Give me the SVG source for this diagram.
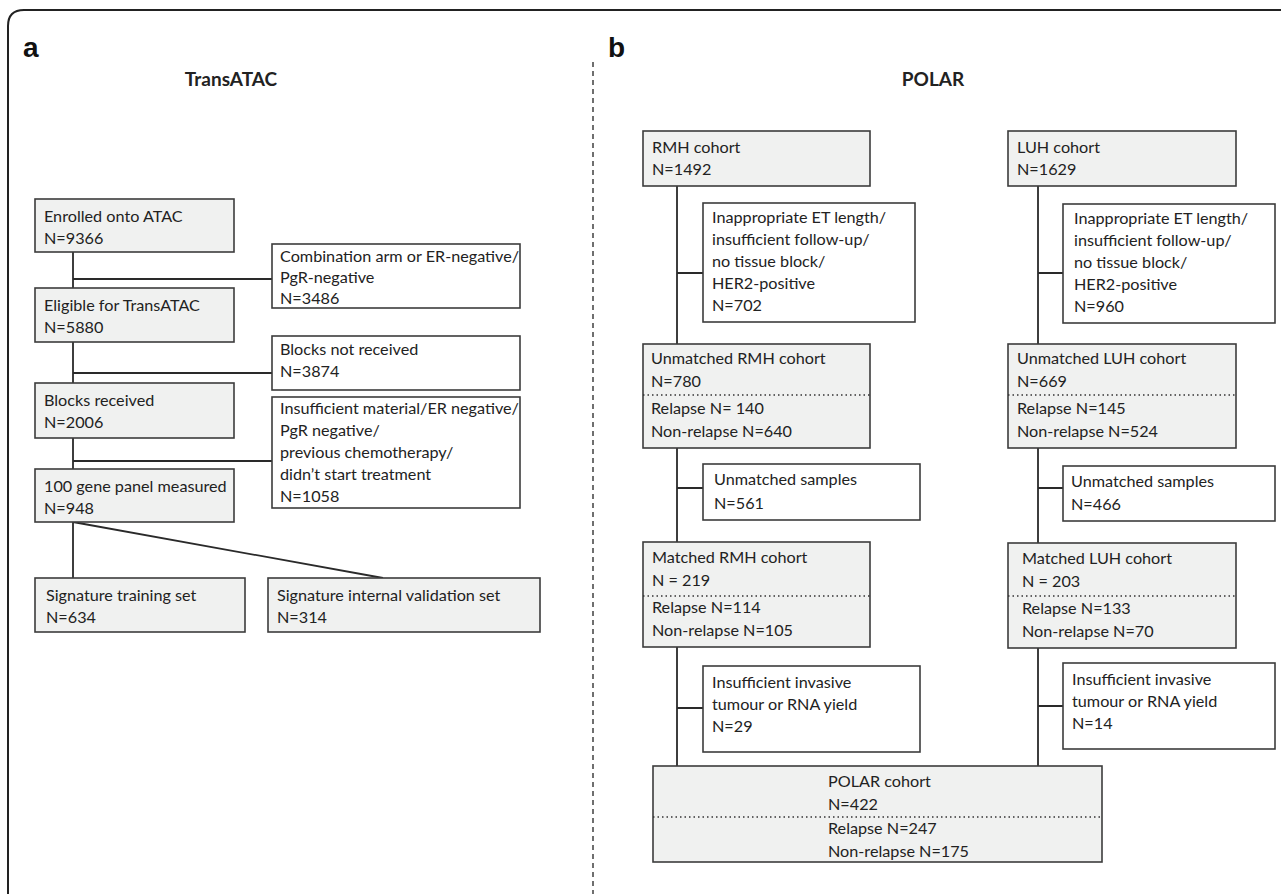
<svg xmlns="http://www.w3.org/2000/svg" width="1281" height="894" viewBox="0 0 1281 894">
<style>
.t{font-family:Lato,"Open Sans","Liberation Sans",sans-serif;font-size:16.2px;fill:#222}
.h{font-family:Lato,"Open Sans","Liberation Sans",sans-serif;font-size:19px;font-weight:bold;fill:#222}
.lab{font-family:"Liberation Sans",Arial,sans-serif;font-size:28px;font-weight:bold;fill:#111}
.g{fill:#f0f1f0;stroke:#3c3c3c;stroke-width:1.6}
.w{fill:#fff;stroke:#3c3c3c;stroke-width:1.6}
.c{fill:none;stroke:#2a2a2a;stroke-width:1.8}
.dot{stroke:#333;stroke-width:1.4;stroke-dasharray:1.5 3}
</style>
<rect width="1281" height="894" fill="#fff"/>
<path d="M8,894 V26 Q8,10 24,10 H1281" fill="none" stroke="#222" stroke-width="2"/>
<line x1="593" y1="62" x2="593" y2="894" stroke="#333" stroke-width="1.4" stroke-dasharray="5 4"/>
<text class="lab" x="23" y="57">a</text>
<text class="lab" x="608" y="57">b</text>
<text class="h" x="231" y="86" text-anchor="middle">TransATAC</text>
<text class="h" x="933" y="86" text-anchor="middle">POLAR</text>

<g id="connectors">
<path class="c" d="M73,252 V578 M73,279 H272 M73,373 H272 M73,461 H272 M73,522 L383,578"/>
<path class="c" d="M677,186 V766 M677,273 H703 M677,488 H703 M677,708 H703"/>
<path class="c" d="M1038,186 V766 M1038,273 H1063 M1038,488 H1063 M1038,706 H1063"/>
</g>

<g id="enrolled"><rect class="g" x="35" y="199" width="199" height="53"/><text class="t" x="44" y="222">Enrolled onto ATAC</text><text class="t" x="44" y="244">N=9366</text></g>
<g id="excl1"><rect class="w" x="272" y="244" width="248" height="64"/><text class="t" x="280" y="262">Combination arm or ER-negative/</text><text class="t" x="280" y="283">PgR-negative</text><text class="t" x="280" y="304">N=3486</text></g>
<g id="eligible"><rect class="g" x="35" y="288" width="199" height="54"/><text class="t" x="44" y="311">Eligible for TransATAC</text><text class="t" x="44" y="333">N=5880</text></g>
<g id="excl2"><rect class="w" x="272" y="336" width="248" height="54"/><text class="t" x="280" y="355">Blocks not received</text><text class="t" x="280" y="377">N=3874</text></g>
<g id="received"><rect class="g" x="35" y="383" width="199" height="55"/><text class="t" x="44" y="406">Blocks received</text><text class="t" x="44" y="428">N=2006</text></g>
<g id="excl3"><rect class="w" x="272" y="397" width="248" height="111"/><text class="t" x="280" y="414">Insufficient material/ER negative/</text><text class="t" x="280" y="436">PgR negative/</text><text class="t" x="280" y="458">previous chemotherapy/</text><text class="t" x="280" y="480">didn’t start treatment</text><text class="t" x="280" y="502">N=1058</text></g>
<g id="panel"><rect class="g" x="35" y="469" width="199" height="53"/><text class="t" x="44" y="492">100 gene panel measured</text><text class="t" x="44" y="514">N=948</text></g>
<g id="training"><rect class="g" x="35" y="578" width="210" height="54"/><text class="t" x="46" y="601">Signature training set</text><text class="t" x="46" y="623">N=634</text></g>
<g id="validation"><rect class="g" x="268" y="578" width="272" height="54"/><text class="t" x="277" y="601">Signature internal validation set</text><text class="t" x="277" y="623">N=314</text></g>

<g id="rmh"><rect class="g" x="643" y="131" width="227" height="55"/><text class="t" x="652" y="153">RMH cohort</text><text class="t" x="652" y="175">N=1492</text></g>
<g id="rmhex"><rect class="w" x="703" y="203" width="212" height="119"/><text class="t" x="712" y="223">Inappropriate ET length/</text><text class="t" x="712" y="245">insufficient follow-up/</text><text class="t" x="712" y="267">no tissue block/</text><text class="t" x="712" y="289">HER2-positive</text><text class="t" x="712" y="311">N=702</text></g>
<g id="rmhun"><rect class="g" x="643" y="344" width="227" height="104"/><text class="t" x="651" y="364">Unmatched RMH cohort</text><text class="t" x="651" y="387">N=780</text><line class="dot" x1="643" y1="395" x2="870" y2="395"/><text class="t" x="651" y="414">Relapse N= 140</text><text class="t" x="651" y="437">Non-relapse N=640</text></g>
<g id="rmhus"><rect class="w" x="703" y="464" width="217" height="56"/><text class="t" x="714" y="485">Unmatched samples</text><text class="t" x="714" y="509">N=561</text></g>
<g id="rmhm"><rect class="g" x="643" y="542" width="227" height="105"/><text class="t" x="652" y="563">Matched RMH cohort</text><text class="t" x="652" y="586">N = 219</text><line class="dot" x1="643" y1="596" x2="870" y2="596"/><text class="t" x="652" y="613">Relapse N=114</text><text class="t" x="652" y="636">Non-relapse N=105</text></g>
<g id="rmhin"><rect class="w" x="703" y="666" width="217" height="86"/><text class="t" x="712" y="688">Insufficient invasive</text><text class="t" x="712" y="710">tumour or RNA yield</text><text class="t" x="712" y="732">N=29</text></g>

<g id="luh"><rect class="g" x="1008" y="131" width="228" height="55"/><text class="t" x="1017" y="153">LUH cohort</text><text class="t" x="1017" y="175">N=1629</text></g>
<g id="luhex"><rect class="w" x="1063" y="204" width="212" height="119"/><text class="t" x="1074" y="224">Inappropriate ET length/</text><text class="t" x="1074" y="246">insufficient follow-up/</text><text class="t" x="1074" y="268">no tissue block/</text><text class="t" x="1074" y="290">HER2-positive</text><text class="t" x="1074" y="312">N=960</text></g>
<g id="luhun"><rect class="g" x="1008" y="344" width="228" height="104"/><text class="t" x="1017" y="364">Unmatched LUH cohort</text><text class="t" x="1017" y="387">N=669</text><line class="dot" x1="1008" y1="395" x2="1236" y2="395"/><text class="t" x="1017" y="414">Relapse N=145</text><text class="t" x="1017" y="437">Non-relapse N=524</text></g>
<g id="luhus"><rect class="w" x="1063" y="466" width="212" height="55"/><text class="t" x="1071" y="487">Unmatched samples</text><text class="t" x="1071" y="510">N=466</text></g>
<g id="luhm"><rect class="g" x="1008" y="543" width="228" height="105"/><text class="t" x="1022" y="564">Matched LUH cohort</text><text class="t" x="1022" y="587">N = 203</text><line class="dot" x1="1008" y1="596" x2="1236" y2="596"/><text class="t" x="1022" y="614">Relapse N=133</text><text class="t" x="1022" y="637">Non-relapse N=70</text></g>
<g id="luhin"><rect class="w" x="1063" y="663" width="212" height="86"/><text class="t" x="1072" y="685">Insufficient invasive</text><text class="t" x="1072" y="707">tumour or RNA yield</text><text class="t" x="1072" y="729">N=14</text></g>

<g id="polar"><rect class="g" x="653" y="766" width="449" height="96"/><text class="t" x="828" y="787">POLAR cohort</text><text class="t" x="828" y="810">N=422</text><line class="dot" x1="653" y1="817" x2="1102" y2="817"/><text class="t" x="828" y="834">Relapse N=247</text><text class="t" x="828" y="857">Non-relapse N=175</text></g>
</svg>
